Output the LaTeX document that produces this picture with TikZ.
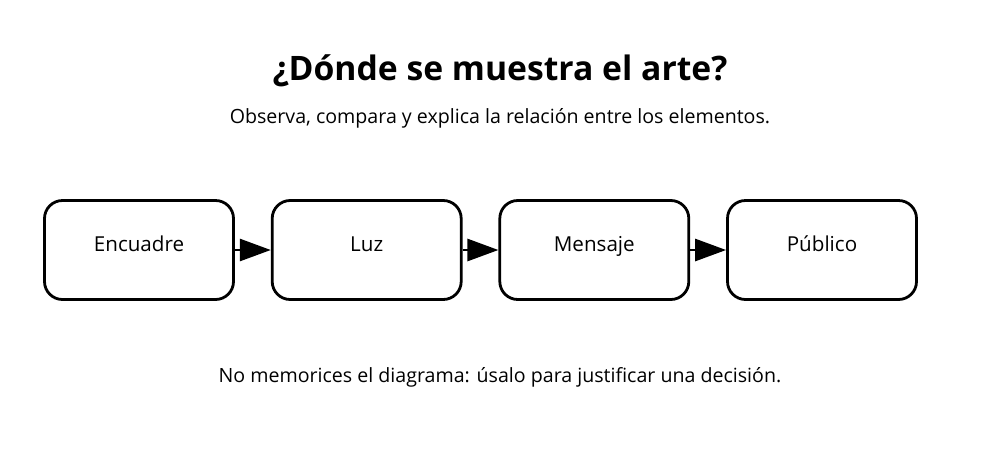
\documentclass[tikz,border=0pt]{standalone}
\usepackage{fontspec}
\setmainfont{Open Sans}
\usetikzlibrary{arrows.meta}
\begin{document}
\begin{tikzpicture}[x=1pt,y=-1pt,
  stage/.style={draw=black, line width=2.8pt, rounded corners=18pt, minimum width=189pt, minimum height=99pt, inner sep=0pt, text height=13pt, text depth=11pt, font=\fontsize{20.6}{24}\selectfont, fill=white},
  flow/.style={line width=2.8pt, -{Triangle[length=31pt,width=22pt]}},
  lbl/.style={font=\fontsize{19.6}{23}\selectfont, inner sep=0pt, anchor=base}]
\useasboundingbox (0,0) rectangle (1000,467);
\node[font=\bfseries\fontsize{33.7}{40}\selectfont, inner sep=0pt, anchor=base] (title) at (500,80.5) {¿Dónde se muestra el arte?};
\node[lbl] (sub) at (500,123) {Observa, compara y explica la relación entre los elementos.};
\node[stage] (a) at (139,250) {Encuadre};
\node[stage] (b) at (366.7,250) {Luz};
\node[stage] (c) at (594.3,250) {Mensaje};
\node[stage] (d) at (822,250) {Público};
\draw[flow] (a.east) -- (b.west);
\draw[flow] (b.east) -- (c.west);
\draw[flow] (c.east) -- (d.west);
\node[lbl] (foot) at (500,382) {No memorices el diagrama: úsalo para justificar una decisión.};
\end{tikzpicture}
\end{document}
